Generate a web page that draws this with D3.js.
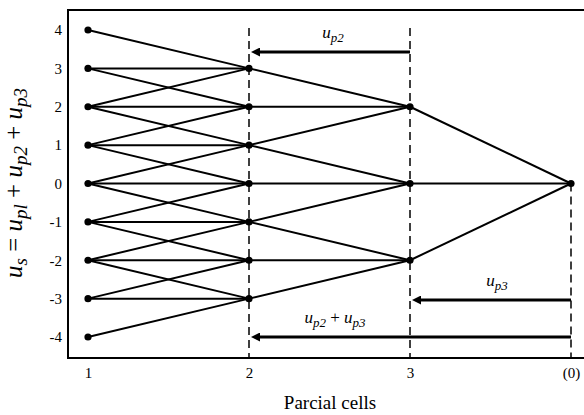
<!DOCTYPE html>
<html>
<head>
<meta charset="utf-8">
<title>Parcial cells</title>
<script src="https://d3js.org/d3.v7.min.js"></script>
<style>
  body { margin: 0; background: #fff; }
  text { font-family: "Liberation Serif", "Times New Roman", serif; fill: #000; }
</style>
</head>
<body>
<svg id="chart" width="584" height="415"></svg>
<script>
// cells along the x axis and the level range of each
var cells = ["1", "2", "3", "(0)"];
var levelTicks = [4, 3, 2, 1, 0, -1, -2, -3, -4];
var cell1Levels = [4, 3, 2, 1, 0, -1, -2, -3, -4];
var cell2Levels = [3, 2, 1, 0, -1, -2, -3];
var cell3Levels = [2, 0, -2];
var cell0Levels = [0];

// links [fromLevel, toLevel] between neighbouring cells
var links12 = [
  [4, 3], [3, 3], [3, 2], [2, 3], [2, 2], [2, 1], [1, 2], [1, 1], [1, 0],
  [0, 1], [0, 0], [0, -1], [-1, 0], [-1, -1], [-1, -2], [-2, -1], [-2, -2], [-2, -3],
  [-3, -3], [-3, -2], [-4, -3]
];
var links23 = [
  [3, 2], [2, 2], [1, 2], [1, 0], [0, 0], [-1, 0], [-1, -2], [-2, -2], [-3, -2]
];
var links30 = [[2, 0], [0, 0], [-2, 0]];

var svg = d3.select("#chart");

var x = d3.scalePoint().domain(cells).range([88, 571]);
var y = d3.scaleLinear().domain([-4, 4]).range([337, 30]);

var frameLeft = 68, frameTop = 10, frameBottom = 358;

// frame (right side runs off the picture)
svg.append("rect")
  .attr("x", frameLeft).attr("y", frameTop)
  .attr("width", 600 - frameLeft).attr("height", frameBottom - frameTop)
  .attr("fill", "none").attr("stroke", "#000").attr("stroke-width", 2);

// axes, labels only
var yAxis = svg.append("g")
  .attr("transform", "translate(" + frameLeft + ",0)")
  .call(d3.axisLeft(y).tickValues(levelTicks).tickFormat(String).tickSize(0).tickPadding(6));
yAxis.attr("font-family", "Liberation Serif, serif").attr("font-size", 15);
yAxis.select(".domain").remove();

var xAxis = svg.append("g")
  .attr("transform", "translate(0," + frameBottom + ")")
  .call(d3.axisBottom(x).tickSize(0).tickPadding(9));
xAxis.attr("font-family", "Liberation Serif, serif").attr("font-size", 15);
xAxis.select(".domain").remove();

// dashed guides
var guides = [["2", 28], ["3", 28], ["(0)", y(0)]];
svg.append("g").selectAll("line")
  .data(guides).enter().append("line")
  .attr("x1", function(d) { return x(d[0]); })
  .attr("x2", function(d) { return x(d[0]); })
  .attr("y1", function(d) { return d[1]; })
  .attr("y2", frameBottom)
  .attr("stroke", "#000").attr("stroke-width", 1.5)
  .attr("stroke-dasharray", "8,5");

// links
function drawLinks(list, c1, c2) {
  svg.append("g").selectAll("line")
    .data(list).enter().append("line")
    .attr("x1", x(c1)).attr("x2", x(c2))
    .attr("y1", function(d) { return y(d[0]); })
    .attr("y2", function(d) { return y(d[1]); })
    .attr("stroke", "#000").attr("stroke-width", 2);
}
drawLinks(links12, "1", "2");
drawLinks(links23, "2", "3");
drawLinks(links30, "3", "(0)");

// nodes
var nodes = [];
cell1Levels.forEach(function(v) { nodes.push(["1", v]); });
cell2Levels.forEach(function(v) { nodes.push(["2", v]); });
cell3Levels.forEach(function(v) { nodes.push(["3", v]); });
cell0Levels.forEach(function(v) { nodes.push(["(0)", v]); });
svg.append("g").selectAll("circle")
  .data(nodes).enter().append("circle")
  .attr("cx", function(d) { return x(d[0]); })
  .attr("cy", function(d) { return y(d[1]); })
  .attr("r", 3.6)
  .attr("fill", "#000");

// arrows
svg.append("defs").append("marker")
  .attr("id", "head")
  .attr("viewBox", "0 0 10 10")
  .attr("refX", 0).attr("refY", 5)
  .attr("markerWidth", 11).attr("markerHeight", 9)
  .attr("markerUnits", "userSpaceOnUse")
  .attr("orient", "auto")
  .append("path").attr("d", "M0,0 L10,5 L0,10 Z").attr("fill", "#000");

function addParts(t, parts, subSize, shift) {
  var shifted = false;
  parts.forEach(function(p) {
    var s = t.append("tspan").text(p[0]);
    if (p[1] === "sub") {
      s.style("font-style", "italic").style("font-size", subSize + "px").attr("dy", shifted ? 0 : shift);
      shifted = true;
    } else {
      s.style("font-style", p[1] === "op" ? "normal" : "italic").attr("dy", shifted ? -shift : 0);
      shifted = false;
    }
  });
}

var arrows = [
  { from: "3", to: "2", yy: 52, label: [["u", ""], ["p2", "sub"]], lx: 333, ly: 38 },
  { from: "(0)", to: "3", yy: 300, label: [["u", ""], ["p3", "sub"]], lx: 497, ly: 286 },
  { from: "(0)", to: "2", yy: 337, label: [["u", ""], ["p2", "sub"], [" + ", "op"], ["u", ""], ["p3", "sub"]], lx: 335, ly: 323 }
];
arrows.forEach(function(a) {
  svg.append("line")
    .attr("x1", x(a.from)).attr("x2", x(a.to) + 11)
    .attr("y1", a.yy).attr("y2", a.yy)
    .attr("stroke", "#000").attr("stroke-width", 3)
    .attr("marker-end", "url(#head)");
  var t = svg.append("text")
    .attr("x", a.lx).attr("y", a.ly)
    .attr("text-anchor", "middle")
    .style("font-size", "17px");
  addParts(t, a.label, 13, 4);
});

// y axis title
var yt = svg.append("text")
  .attr("transform", "translate(22,183) rotate(-90)")
  .attr("text-anchor", "middle")
  .style("font-size", "25px");
addParts(yt, [["u", ""], ["s", "sub"], [" = ", "op"], ["u", ""], ["pl", "sub"], [" + ", "op"],
  ["u", ""], ["p2", "sub"], [" + ", "op"], ["u", ""], ["p3", "sub"]], 19, 5);

// x axis title
svg.append("text")
  .attr("x", 330).attr("y", 409)
  .attr("text-anchor", "middle")
  .style("font-size", "19px")
  .text("Parcial cells");
</script>
</body>
</html>
